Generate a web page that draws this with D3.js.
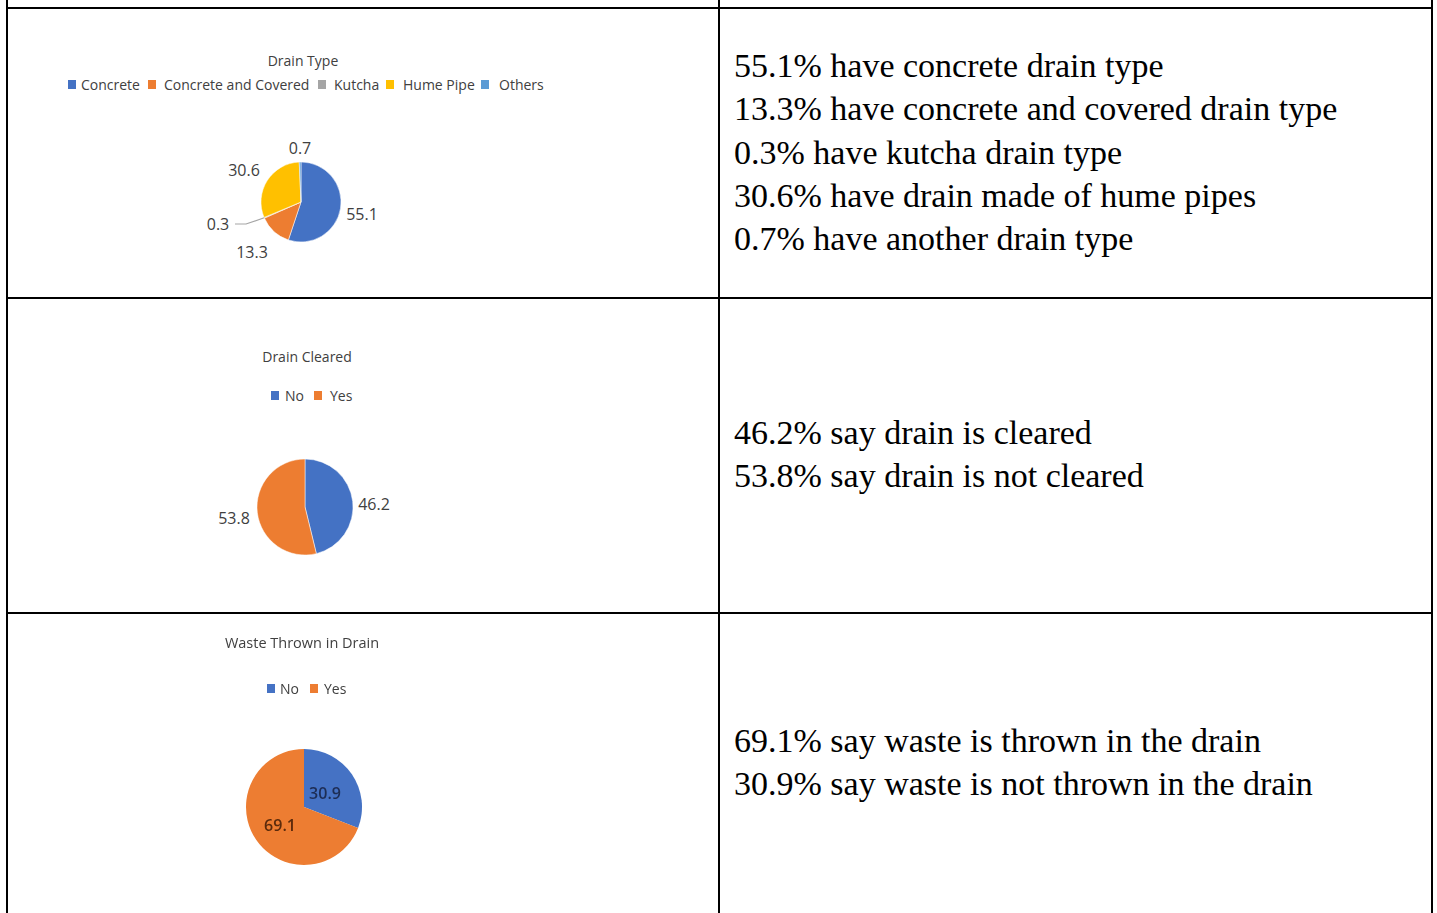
<!DOCTYPE html>
<html>
<head>
<meta charset="utf-8">
<script src="https://cdn.jsdelivr.net/npm/d3@7"></script>
<style>
  body { margin: 0; background: #fff; }
  svg text { font-family: "Open Sans", "Liberation Sans", sans-serif; }
</style>
</head>
<body>
<div id="viz_div"></div>
<script>
// drain type pie
var type_labels = ["Concrete", "Concrete and Covered", "Kutcha", "Hume Pipe", "Others"];
var type_values = [55.1, 13.3, 0.3, 30.6, 0.7];
var type_colors = ["#4472c4", "#ed7d31", "#a5a5a5", "#ffc000", "#5b9bd5"];

// drain cleared pie
var cleared_labels = ["No", "Yes"];
var cleared_values = [46.2, 53.8];

// waste thrown pie
var waste_labels = ["No", "Yes"];
var waste_values = [30.9, 69.1];

var yes_no_colors = ["#4472c4", "#ed7d31"];

var type_text = [
  "55.1% have concrete drain type",
  "13.3% have concrete and covered drain type",
  "0.3% have kutcha drain type",
  "30.6% have drain made of hume pipes",
  "0.7% have another drain type"
];
var cleared_text = ["46.2% say drain is cleared", "53.8% say drain is not cleared"];
var waste_text = ["69.1% say waste is thrown in the drain", "30.9% say waste is not thrown in the drain"];

var w = 1437, h = 913;

var svg = d3.select("#viz_div").append("svg")
  .attr("width", w).attr("height", h);

// table grid
var col_x = [7, 719, 1432];
var row_y = [8, 298, 613];
svg.selectAll("line.vline").data(col_x).enter().append("line")
  .attr("x1", d => d).attr("x2", d => d)
  .attr("y1", 0).attr("y2", h)
  .attr("stroke", "#000").attr("stroke-width", 2);
svg.selectAll("line.hline").data(row_y).enter().append("line")
  .attr("x1", 6).attr("x2", 1433)
  .attr("y1", d => d).attr("y2", d => d)
  .attr("stroke", "#000").attr("stroke-width", 2);

var pie = d3.pie().sort(null).value(d => d);

function draw_title(g, x, y, txt, size) {
  g.append("text").attr("x", x).attr("y", y)
    .attr("text-anchor", "middle").attr("font-size", size || 14).attr("fill", "#404040")
    .text(txt);
}

// xs = square positions, tx = text positions
function draw_legend(g, items, colors, xs, tx, y) {
  items.forEach(function(name, i) {
    g.append("rect").attr("x", xs[i]).attr("y", y - 10).attr("width", 8).attr("height", 9)
      .attr("fill", colors[i]);
    g.append("text").attr("x", tx[i]).attr("y", y)
      .attr("font-size", 14).attr("fill", "#404040").text(name);
  });
}

// ---- chart 1: drain type ----
var g1 = svg.append("g");
draw_title(g1, 303, 66, "Drain Type");
draw_legend(g1, type_labels, type_colors,
  [68, 148, 318, 386, 481], [81, 164, 334, 403, 499], 90);

var c1 = {x: 301, y: 202, r: 40};
var arc1 = d3.arc().innerRadius(0).outerRadius(c1.r);
var p1 = g1.append("g").attr("transform", "translate(" + c1.x + "," + c1.y + ")");
p1.selectAll("path").data(pie(type_values)).enter().append("path")
  .attr("d", arc1)
  .attr("fill", (d, i) => type_colors[i])
  .attr("stroke", "#fff").attr("stroke-width", 0.5);

// label offsets (excel "best fit" style, outside the pie)
var lab1 = [
  {dx: 61, dy: 18},   // 55.1
  {dx: -49, dy: 56},  // 13.3
  {dx: -83, dy: 28},  // 0.3
  {dx: -57, dy: -26}, // 30.6
  {dx: -1, dy: -48}   // 0.7
];
p1.selectAll("text.val").data(pie(type_values)).enter().append("text")
  .attr("x", (d, i) => lab1[i].dx)
  .attr("y", (d, i) => lab1[i].dy)
  .attr("text-anchor", "middle")
  .attr("font-size", 16).attr("fill", "#404040")
  .text(d => d.data);

// leader line for the thin kutcha slice
var k = pie(type_values)[2];
var kmid = (k.startAngle + k.endAngle) / 2;
var kx = Math.sin(kmid) * c1.r, ky = -Math.cos(kmid) * c1.r;
p1.append("polyline")
  .attr("points", [[kx, ky], [-55, 22], [-66, 22]].map(p => p.join(",")).join(" "))
  .attr("fill", "none").attr("stroke", "#a5a5a5").attr("stroke-width", 1.2);

// ---- chart 2: drain cleared ----
var g2 = svg.append("g");
draw_title(g2, 307, 362, "Drain Cleared");
draw_legend(g2, cleared_labels, yes_no_colors, [271, 314], [285, 330], 401);

var c2 = {x: 305, y: 507, r: 48};
var arc2 = d3.arc().innerRadius(0).outerRadius(c2.r);
var p2 = g2.append("g").attr("transform", "translate(" + c2.x + "," + c2.y + ")");
p2.selectAll("path").data(pie(cleared_values)).enter().append("path")
  .attr("d", arc2)
  .attr("fill", (d, i) => yes_no_colors[i])
  .attr("stroke", "#fff").attr("stroke-width", 0.5);
var lab2 = [{dx: 69, dy: 3}, {dx: -71, dy: 17}];
p2.selectAll("text.val").data(pie(cleared_values)).enter().append("text")
  .attr("x", (d, i) => lab2[i].dx).attr("y", (d, i) => lab2[i].dy)
  .attr("text-anchor", "middle").attr("font-size", 16).attr("fill", "#404040")
  .text(d => d.data);

// ---- chart 3: waste thrown (blurry screenshot in source) ----
var defs = svg.append("defs");
defs.append("filter").attr("id", "soft")
  .append("feGaussianBlur").attr("stdDeviation", 0.55);

var g3 = svg.append("g").attr("filter", "url(#soft)");
draw_title(g3, 302, 648, "Waste Thrown in Drain", 14.5);
draw_legend(g3, waste_labels, yes_no_colors, [267, 310], [280, 324], 694);

var c3 = {x: 304, y: 807, r: 58};
var arc3 = d3.arc().innerRadius(0).outerRadius(c3.r);
var p3 = g3.append("g").attr("transform", "translate(" + c3.x + "," + c3.y + ")");
p3.selectAll("path").data(pie(waste_values)).enter().append("path")
  .attr("d", arc3)
  .attr("fill", (d, i) => yes_no_colors[i]);
var lab3 = [{dx: 21, dy: -8}, {dx: -24, dy: 24}];
p3.selectAll("text.val").data(pie(waste_values)).enter().append("text")
  .attr("x", (d, i) => lab3[i].dx).attr("y", (d, i) => lab3[i].dy)
  .attr("text-anchor", "middle").attr("font-size", 16).attr("font-weight", 600)
  .attr("fill", (d, i) => i == 0 ? "#1f2d55" : "#5a2a0c")
  .text(d => d.data);

// ---- right column text ----
function draw_lines(lines, y0) {
  svg.append("g").selectAll("text").data(lines).enter().append("text")
    .attr("x", 734)
    .attr("y", (d, i) => y0 + i * 43.3)
    .attr("font-size", 34)
    .attr("fill", "#000")
    .style("font-family", "'Liberation Serif', serif")
    .text(d => d);
}
draw_lines(type_text, 77);
draw_lines(cleared_text, 444);
draw_lines(waste_text, 752);
</script>
</body>
</html>
